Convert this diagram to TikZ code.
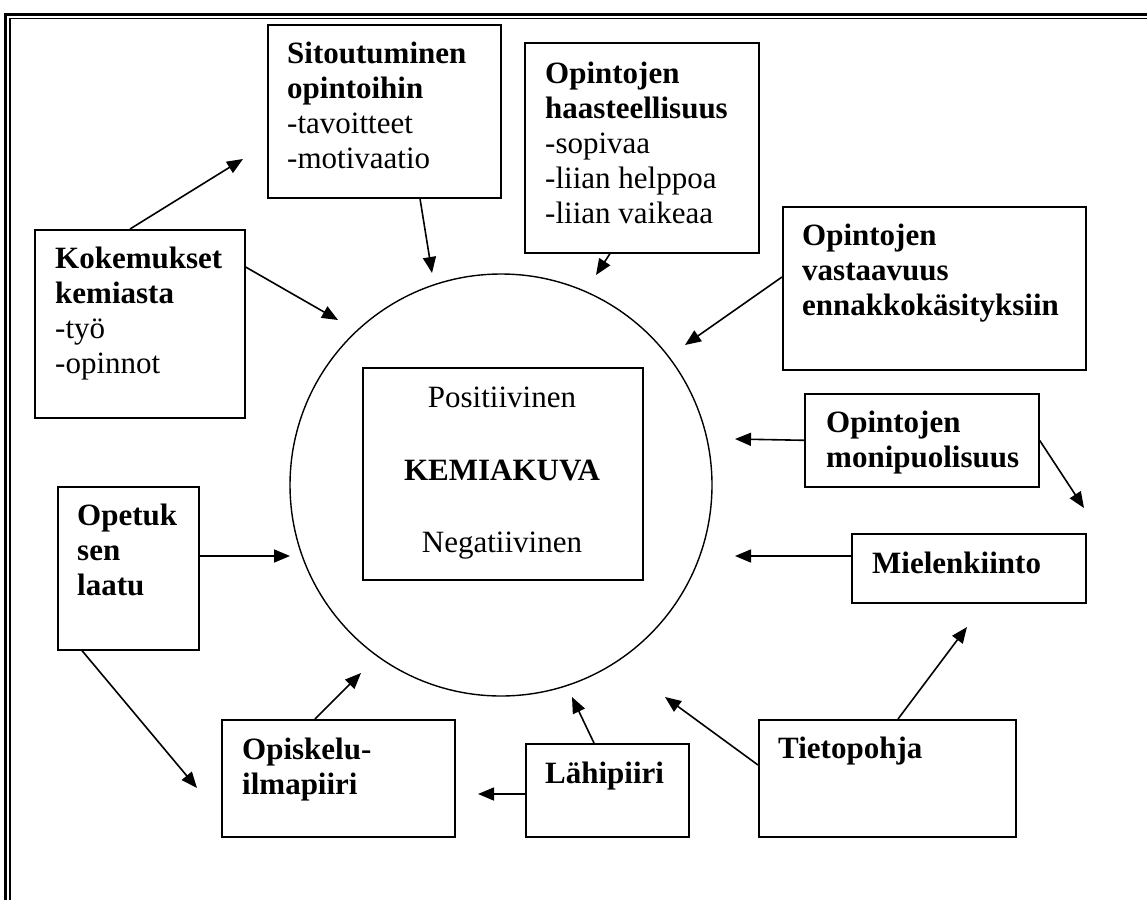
\documentclass[tikz,border=0pt]{standalone}
\usepackage{fontspec}
\setmainfont{Liberation Serif}
\usetikzlibrary{arrows.meta,calc}
\begin{document}
\begin{tikzpicture}[x=1pt,y=-1pt,
  box/.style={draw, line width=1.6pt, rectangle, inner sep=0pt, anchor=north west},
  txt/.style={inner sep=0pt, anchor=base west, align=left, font=\fontsize{31}{35}\selectfont},
  ctxt/.style={inner sep=0pt, anchor=base, font=\fontsize{31}{35}\selectfont},
  arr/.style={line width=1.6pt, -{Triangle[length=16pt,width=13pt]}},
]
\useasboundingbox (0,0) rectangle (1147,899);
\clip (0,0) rectangle (1147,899);
\fill[white] (0,0) rectangle (1147,899);
% frame
\draw[line width=3pt] (5.3,920) -- (5.3,14.7) -- (1170,14.7);
\draw[line width=1.5pt] (10.2,920) -- (10.2,18.7) -- (1170,18.7);

% central circle and box
\node[draw, circle, line width=1.4pt, minimum size=422pt, inner sep=0pt] (circ) at (501,485) {};
\node[box, minimum width=280pt, minimum height=212pt] (kem) at (362,367) {};
\node[ctxt] (kpos) at (502,407) {Positiivinen};
\node[ctxt] (kmid) at (502,480) {\textbf{KEMIAKUVA}};
\node[ctxt] (kneg) at (502,552) {Negatiivinen};

% boxes
\node[box, minimum width=233pt, minimum height=173pt] (sit) at (267,24) {};
\node[box, minimum width=234pt, minimum height=210pt] (haa) at (524,42) {};
\node[box, minimum width=303pt, minimum height=163pt] (vas) at (782,206) {};
\node[box, minimum width=210pt, minimum height=188pt] (kok) at (34,229) {};
\node[box, minimum width=234pt, minimum height=93pt] (mon) at (804,393) {};
\node[box, minimum width=234pt, minimum height=69pt] (mie) at (851,533) {};
\node[box, minimum width=141pt, minimum height=163pt] (ope) at (57,486) {};
\node[box, minimum width=233pt, minimum height=117pt] (opi) at (221,719) {};
\node[box, minimum width=163pt, minimum height=93pt] (lah) at (525,743) {};
\node[box, minimum width=257pt, minimum height=117pt] (tie) at (758,719) {};

% texts (positioned at the baseline of the last line)
\node[txt] (tsit) at (287,168) {\textbf{Sitoutuminen}\\\textbf{opintoihin}\\-tavoitteet\\-motivaatio};
\node[txt] (thaa) at (545,223) {\textbf{Opintojen}\\\textbf{haasteellisuus}\\-sopivaa\\-liian helppoa\\-liian vaikeaa};
\node[txt] (tvas) at (802,315) {\textbf{Opintojen}\\\textbf{vastaavuus}\\\textbf{ennakkokäsityksiin}};
\node[txt] (tkok) at (55,373) {\textbf{Kokemukset}\\\textbf{kemiasta}\\-työ\\-opinnot};
\node[txt] (tmon) at (826,467) {\textbf{Opintojen}\\\textbf{monipuolisuus}};
\node[txt] (tmie) at (872,573) {\textbf{Mielenkiinto}};
\node[txt] (tope) at (77,595) {\textbf{Opetuk}\\\textbf{sen}\\\textbf{laatu}};
\node[txt] (topi) at (242,794) {\textbf{Opiskelu-}\\\textbf{ilmapiiri}};
\node[txt] (tlah) at (545,783) {\textbf{Lähipiiri}};
\node[txt] (ttie) at (778,758) {\textbf{Tietopohja}};

% free arrow ends
\coordinate (ea) at (243,159);
\coordinate (eb) at (338,320);
\coordinate (ec) at (432,273);
\coordinate (ed) at (596,275);
\coordinate (ee) at (685,345);
\coordinate (ef) at (735,439);
\coordinate (eg) at (1084,508);
\coordinate (eh) at (735,556);
\coordinate (ei) at (290,556);
\coordinate (ej) at (197,788);
\coordinate (ek) at (361,673);
\coordinate (el) at (478,794);
\coordinate (em) at (572,697);
\coordinate (en) at (665,697);
\coordinate (eo) at (967,627);

% arrows
\draw[arr] ($(kok.north west)+(96,0)$) -- (ea);
\draw[arr] ($(kok.north east)+(0,38)$) -- (eb);
\draw[arr] ($(sit.south west)+(153,0)$) -- (ec);
\draw[arr] ($(haa.south west)+(86,0)$) -- (ed);
\draw[arr] ($(vas.north west)+(0,71)$) -- (ee);
\draw[arr] (mon.west) -- (ef);
\draw[arr] (mon.east) -- (eg);
\draw[arr] ($(mie.north west)+(0,23)$) -- (eh);
\draw[arr] ($(ope.north east)+(0,70)$) -- (ei);
\draw[arr] ($(ope.south west)+(25,0)$) -- (ej);
\draw[arr] ($(opi.north west)+(94,0)$) -- (ek);
\draw[arr] ($(lah.north west)+(0,51)$) -- (el);
\draw[arr] ($(lah.north west)+(69,0)$) -- (em);
\draw[arr] ($(tie.north west)+(0,46)$) -- (en);
\draw[arr] ($(tie.north west)+(140,0)$) -- (eo);
\end{tikzpicture}
\end{document}
